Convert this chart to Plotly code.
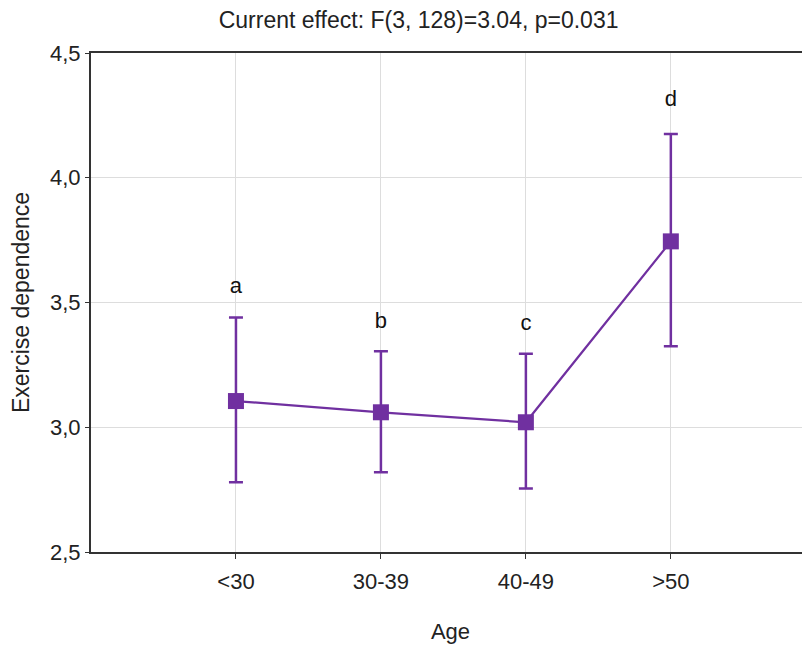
import plotly.graph_objects as go

categories = ["<30", "30-39", "40-49", ">50"]
means = [3.105, 3.06, 3.02, 3.745]
upper = [3.44, 3.305, 3.295, 4.175]
lower = [2.78, 2.82, 2.755, 3.325]
letters = ["a", "b", "c", "d"]
letter_y = [3.56, 3.42, 3.41, 4.31]

xidx = list(range(len(categories)))
color = "#7030A0"
FONT = "Liberation Sans, Arial"

W, H = 802, 637  # page body has an 8px margin in the 810x645 window

fig = go.Figure()
fig.add_trace(go.Scatter(
    x=xidx, y=means, mode="lines+markers",
    line=dict(color=color, width=2.2),
    marker=dict(symbol="square", size=16, color=color),
    error_y=dict(type="data", symmetric=False,
                 array=[u - m for u, m in zip(upper, means)],
                 arrayminus=[m - l for m, l in zip(means, lower)],
                 color=color, thickness=2.5, width=7),
    showlegend=False,
))
fig.add_trace(go.Scatter(
    x=xidx, y=letter_y, mode="text", text=letters,
    textfont=dict(size=22, color="#111", family=FONT),
    showlegend=False, hoverinfo="skip",
))

fig.update_layout(
    width=W, height=H,
    margin=dict(l=83, r=0, t=45, b=93),
    paper_bgcolor="white", plot_bgcolor="white",
    separators=",.",
    font=dict(family=FONT, size=22, color="#222"),
    title=dict(text="Current effect: F(3, 128)=3.04, p=0.031",
               x=0.512, xanchor="center", xref="container",
               y=1 - 12 / H, yanchor="middle", yref="container",
               font=dict(size=23, color="#222")),
    xaxis=dict(
        range=[-1, 3.96], tickmode="array", tickvals=xidx, ticktext=categories,
        showgrid=True, gridcolor="#dddddd", gridwidth=1,
        showline=True, linecolor="#333", linewidth=2, mirror=True,
        ticks="outside", ticklen=5, tickcolor="#333",
        ticklabelstandoff=4,
        zeroline=False, tickfont=dict(size=22),
        title=dict(text="Age", standoff=30, font=dict(size=22)),
    ),
    yaxis=dict(
        range=[2.5, 4.5], tickvals=[2.5, 3.0, 3.5, 4.0, 4.5], tickformat=".1f",
        showgrid=True, gridcolor="#dddddd", gridwidth=1,
        showline=True, linecolor="#333", linewidth=2,
        ticks="outside", ticklen=4, tickcolor="#333",
        zeroline=False, tickfont=dict(size=22),
        title=dict(text="Exercise dependence", standoff=20, font=dict(size=23)),
    ),
)

fig.write_html("out.html")
